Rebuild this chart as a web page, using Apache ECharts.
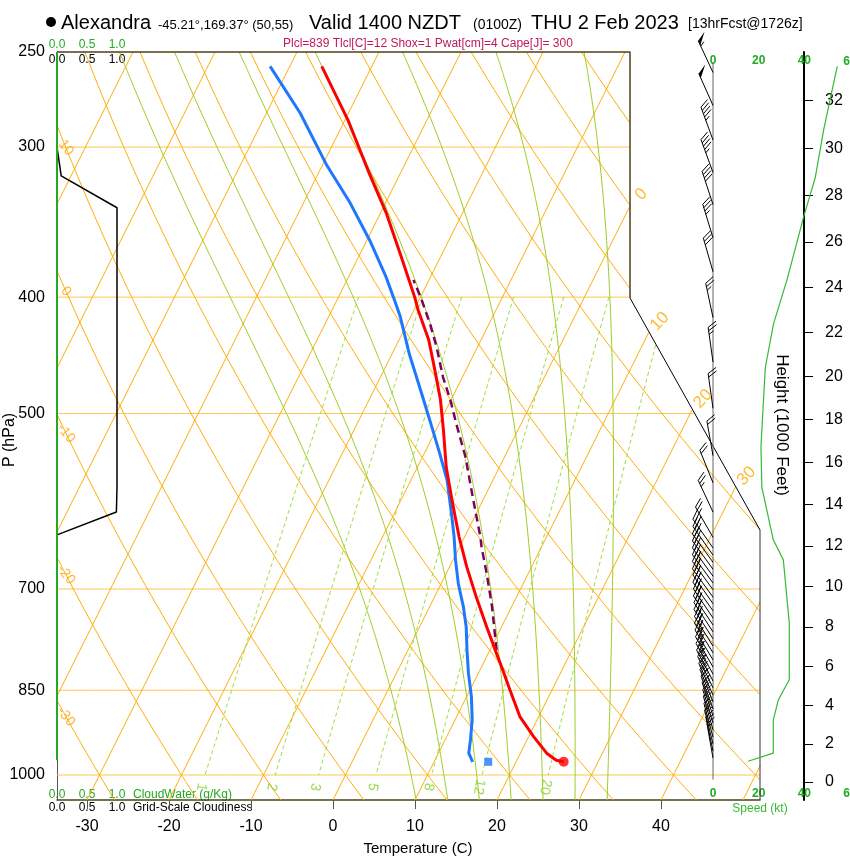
<!DOCTYPE html>
<html><head><meta charset="utf-8">
<script src="https://cdn.jsdelivr.net/npm/echarts@6/dist/echarts.min.js"></script>
<style>html,body{margin:0;padding:0;background:#fff}#c{width:850px;height:860px}</style>
</head><body><div id="c"></div>
<script>
// ---------------- data ----------------
const tempP = [975, 972, 959, 929, 894, 850, 818, 792, 753, 711, 671, 633, 590, 554, 516, 487, 460, 434, 410, 400, 373, 341, 316, 285, 257];
const tempT = [25.8, 24.8, 23.2, 20.6, 17.7, 14.9, 12.8, 11.0, 8.2, 5.1, 2.1, -0.7, -3.8, -6.5, -9.1, -11.3, -13.8, -16.4, -19.5, -20.7, -24.4, -29.2, -33.7, -39.6, -46.1];
const dewP = [975, 959, 935, 900, 861, 823, 787, 753, 724, 693, 662, 633, 606, 568, 540, 513, 481, 446, 415, 400, 385, 359, 334, 310, 281, 257];
const dewT = [14.7, 13.7, 13.1, 12.1, 10.6, 8.8, 7.2, 5.7, 4.1, 2.1, 0.3, -1.3, -3.0, -5.6, -8.1, -10.7, -14.0, -17.9, -21.3, -23.3, -25.4, -29.6, -34.3, -39.6, -45.9, -52.4];
const parcelP = [787, 724, 679, 646, 633, 590, 543, 510, 487, 466, 440, 421, 402, 387];
const parcelT = [10.8, 7.6, 4.9, 2.7, 1.9, -1.2, -4.8, -7.9, -10.1, -12.4, -15.0, -17.2, -19.7, -21.9];
const surfaceP = [975];
const surfaceT = [25.8];
const surfaceTd = [16.6];
const cloudP = [300, 317, 337, 576, 604, 631];
const cloudFrac = [0, 0.07, 1.0, 1.0, 0.99, 0];
const cloudWaterP = [250, 972];
const cloudWater = [0, 0];
const speedP = [974, 959, 900, 866, 833, 747, 662, 637, 576, 533, 458, 421, 387, 343, 318, 290, 257];
const speedKt = [15.4, 26.4, 26.4, 28.6, 33.4, 33.4, 30.8, 26.4, 21.4, 21.0, 22.9, 26.5, 32.4, 39.7, 44.8, 48.5, 54.4];
const windP = [260, 277, 296, 315, 335, 357, 381, 416, 453, 495, 542, 571, 604, 634,
  647, 656, 665, 674, 683, 692, 701, 711, 720, 730, 740, 750, 760, 770, 781, 791, 802, 813, 824, 835, 846, 858, 869, 881, 893, 905, 917, 930, 942, 955, 968];
const windDir = [335, 336, 340, 340, 342, 343, 344, 348, 352, 352, 350, 338, 335, 330,
  325, 325, 324, 324, 324, 324, 324, 324, 325, 325, 326, 326, 327, 327, 328, 328, 329, 330, 331, 332, 334, 336, 338, 340, 342, 343, 344, 345, 346, 348, 350];
const windKt = [55, 50, 45, 45, 40, 35, 30, 25, 25, 20, 20, 20, 25, 25,
  30, 30, 30, 30, 35, 35, 35, 35, 35, 35, 35, 35, 35, 35, 35, 35, 35, 35, 35, 35, 30, 30, 30, 30, 25, 25, 25, 25, 25, 25, 15];
const pressureTicks = [250, 300, 400, 500, 700, 850, 1000];
const guideIsobars = [300, 400, 500, 700, 850, 1000];
const tempTicks = [-30, -20, -10, 0, 10, 20, 30, 40];
const heightTicksKft = [0, 2, 4, 6, 8, 10, 12, 14, 16, 18, 20, 22, 24, 26, 28, 30, 32];
const speedTicks = [0, 20, 40];
const speedEdgeTick = '60';
const isotherms = [-100, -90, -80, -70, -60, -50, -40, -30, -20, -10, 0, 10, 20, 30, 40, 50];
const isothermLabels = [0, 10, 20, 30];
const dryAdiabats = [-40, -30, -20, -10, 0, 10, 20, 30, 40, 50, 60, 70, 80, 90, 100, 110, 120, 130];
const dryAdiabatLabels = [10, 0, -10, -20, -30];
const moistAdiabats = [8, 12, 16, 20, 24, 28, 32];
const mixingRatios = [1, 2, 3, 5, 8, 12, 20];

// ---------------- geometry of the skew-T ----------------
const FONT = '"Liberation Sans", Arial, Helvetica, sans-serif';
const GL = 57, GT = 52, GW = 703, GH = 748;
const PXPERC = 8.2;
const X_MIN = -30 - 30 / PXPERC, X_MAX = X_MIN + GW / PXPERC;
const P_TOP = 250, P_BOT = 1049.1;
const LNR = Math.log(P_BOT / P_TOP);
const SK = 0.5 * GH / (PXPERC * LNR);
const skewX = (T, p) => T + SK * Math.log(P_BOT / p);
const toPx = (X, p) => [GL + (X - X_MIN) * PXPERC, GT + GH * Math.log(p / P_TOP) / LNR];
const fromPx = (x, y) => [X_MIN + (x - GL) / PXPERC, P_TOP * Math.exp((y - GT) / GH * LNR)];
const C1 = [630, 298], C2 = [760, 530];
function boundX(y) { return y <= C1[1] ? C1[0] : (y <= C2[1] ? C1[0] + (y - C1[1]) * (C2[0] - C1[0]) / (C2[1] - C1[1]) : C2[0]); }
function inside(X, p) {
  const [x, y] = toPx(X, p);
  if (x < GL - 0.5 || y < GT - 0.5 || y > GT + GH + 0.5) return false;
  return x <= boundX(y) + 0.5;
}
function logP(n, a, b) { const r = []; for (let i = 0; i <= n; i++) r.push(a * Math.exp(i / n * Math.log(b / a))); return r; }
const PS = logP(600, P_TOP, P_BOT);
function family(lines) {
  const out = [];
  lines.forEach(pts => {
    let open = false;
    pts.forEach(pt => {
      if (inside(pt[0], pt[1])) { out.push(pt); open = true; }
      else if (open) { out.push([NaN, NaN]); open = false; }
    });
    if (open) out.push([NaN, NaN]);
  });
  return out;
}
function esat(Tc) { return 6.112 * Math.exp(17.67 * Tc / (Tc + 243.5)); }
function gammaS(p, T) {
  const es = esat(T - 273.15), rs = 0.622 * es / (p - es);
  return (287.04 * T + 2.501e6 * rs) / (p * (1005.7 + 2.501e6 * 2.501e6 * rs * 0.622 / (287.04 * T * T)));
}
function moistLine(thw) {
  const up = [], dn = [];
  let T = thw + 273.15, p = 1000;
  const rk = (p, T, h) => { const k1 = gammaS(p, T), k2 = gammaS(p + h / 2, T + h * k1 / 2), k3 = gammaS(p + h / 2, T + h * k2 / 2), k4 = gammaS(p + h, T + h * k3); return T + h * (k1 + 2 * k2 + 2 * k3 + k4) / 6; };
  up.push([p, T]);
  while (p > P_TOP) { const h = Math.max(-1, P_TOP - p); T = rk(p, T, h); p += h; up.push([p, T]); }
  T = thw + 273.15; p = 1000;
  while (p < P_BOT) { const h = Math.min(1, P_BOT - p); T = rk(p, T, h); p += h; dn.push([p, T]); }
  return dn.reverse().concat(up).map(([pp, TT]) => [skewX(TT - 273.15, pp), pp]);
}
function tdFromR(r, p) { const e = p * r / (622 + r); const a = Math.log(e / 6.112); return 243.5 * a / (17.67 - a); }
const dryT = (th, p) => (th + 273.15) * Math.pow(p / 1000, 0.2857) - 273.15;
const stdP = kft => 1013.25 * Math.pow(1 - 6.8756e-6 * kft * 1000, 5.2559);

const isoData = family(isotherms.map(T => PS.map(p => [skewX(T, p), p])));
const dryData = family(dryAdiabats.map(th => PS.map(p => [skewX(dryT(th, p), p), p])));
const moistData = family(moistAdiabats.map(moistLine));
const mixData = family(mixingRatios.map(r => logP(200, 400, 1000).map(p => [skewX(tdFromR(r, p), p), p])));
const barData = family(guideIsobars.map(p => { const a = []; for (let i = 0; i <= 500; i++) a.push([X_MIN + (X_MAX - X_MIN) * i / 500, p]); return a; }));

const labelItems = [];
dryAdiabatLabels.forEach(th => {
  const target = fromPx(GL + 9, 0)[0];
  let lo = P_TOP, hi = P_BOT;
  for (let k = 0; k < 60; k++) { const m = Math.sqrt(lo * hi); if (skewX(dryT(th, m), m) < target) lo = m; else hi = m; }
  labelItems.push({ value: [target, lo], label: { formatter: String(th), rotate: -52, color: '#ffa500', fontSize: 14 } });
});
isothermLabels.forEach(T => {
  let last = null;
  for (let i = PS.length - 1; i >= 0; i--) { const p = PS[i]; if (inside(skewX(T, p), p)) last = p; else break; }
  const [x, y] = toPx(skewX(T, last), last);
  const q = fromPx(x + 11, y - 11);
  labelItems.push({ value: q, label: { formatter: String(T), rotate: 47, color: '#ffaa00', fontSize: 17 } });
});
mixingRatios.forEach(r => {
  const p = fromPx(0, 787)[1];
  labelItems.push({ value: [skewX(tdFromR(r, p), p), p], label: { formatter: String(r), rotate: -100, color: '#88cc22', fontSize: 14 } });
});

function lineS(data, color, width, opts) {
  return Object.assign({ type: 'line', data, symbol: 'none', showSymbol: false, silent: true, animation: false,
    connectNulls: false, xAxisIndex: 0, yAxisIndex: 0, lineStyle: { color, width } }, opts || {});
}
const zip = (a, b) => a.map((v, i) => [v, b[i]]);

const c1 = fromPx(C1[0], C1[1]), c2 = fromPx(C2[0], C2[1]);
const heightPs = heightTicksKft.map(stdP);

function barbRender(params, api) {
  const base = api.coord([0, api.value(1)]);
  const d = api.value(2) * Math.PI / 180, spd = api.value(3);
  const L = 35, ux = Math.sin(d), uy = -Math.cos(d);
  const tip = [base[0] + ux * L, base[1] + uy * L];
  const a = 60 * Math.PI / 180;
  const fx = ux * Math.cos(a) - uy * Math.sin(a), fy = ux * Math.sin(a) + uy * Math.cos(a);
  const ch = [{ type: 'line', shape: { x1: base[0], y1: base[1], x2: tip[0], y2: tip[1] }, style: { stroke: '#000', lineWidth: 1 } }];
  let s = Math.round(spd / 5) * 5, pos = 0;
  const at = t => [tip[0] - ux * t, tip[1] - uy * t];
  while (s >= 50) {
    const p1 = at(pos), p2 = at(pos + 5);
    ch.push({ type: 'polygon', shape: { points: [p1, [p1[0] + fx * 11, p1[1] + fy * 11], p2] }, style: { fill: '#000' } });
    pos += 6; s -= 50;
  }
  while (s >= 10) {
    const p1 = at(pos);
    ch.push({ type: 'line', shape: { x1: p1[0], y1: p1[1], x2: p1[0] + fx * 10, y2: p1[1] + fy * 10 }, style: { stroke: '#000', lineWidth: 1 } });
    pos += 3.5; s -= 10;
  }
  if (s >= 5) {
    if (pos === 0) pos = 3.5;
    const p1 = at(pos);
    ch.push({ type: 'line', shape: { x1: p1[0], y1: p1[1], x2: p1[0] + fx * 5.5, y2: p1[1] + fy * 5.5 }, style: { stroke: '#000', lineWidth: 1 } });
  }
  return { type: 'group', children: ch };
}

function txt(x, y, text, size, fill, extra) {
  return Object.assign({ type: 'text', x, y, silent: true, style: { text, fill: fill || '#000', font: size + 'px ' + FONT, align: 'left', verticalAlign: 'middle' } }, extra || {});
}
function ctxt(x, y, text, size, fill, rot, weight) {
  return { type: 'text', x, y, rotation: rot || 0, silent: true, style: { text, fill: fill || '#000', font: (weight ? weight + ' ' : '') + size + 'px ' + FONT, align: 'center', verticalAlign: 'middle' } };
}
const GREEN = '#22aa22';
const noZero = { onZero: false };
const speedLabel = (pos, margin) => ({ type: 'value', gridIndex: 1, min: 0, max: 60, position: pos,
  axisLine: { show: false, onZero: false }, axisTick: { show: false }, splitLine: { show: false },
  axisLabel: { inside: true, margin, customValues: speedTicks, color: GREEN, fontSize: 12, fontWeight: 'bold', fontFamily: FONT } });

const option = {
  animation: false,
  backgroundColor: '#fff',
  textStyle: { fontFamily: FONT },
  grid: [
    { left: GL, top: GT, width: GW, height: GH },
    { left: 713, width: 137, top: GT, height: GH },
    { left: 804, width: 30, top: GT, height: GH }
  ],
  xAxis: [
    { type: 'value', gridIndex: 0, min: X_MIN, max: X_MAX, position: 'bottom',
      axisLine: { show: true, onZero: false, lineStyle: { color: '#4d4018', width: 1.5 } },
      axisTick: { show: true, customValues: tempTicks, length: 9, lineStyle: { color: '#555' } },
      axisLabel: { customValues: tempTicks, fontSize: 16, color: '#000', margin: 19, fontFamily: FONT },
      splitLine: { show: false } },
    { type: 'value', gridIndex: 0, min: 0, max: GW / 60, show: false, axisLine: noZero },
    speedLabel('top', 3),
    speedLabel('bottom', 0),
    { type: 'value', gridIndex: 2, min: 0, max: 1, show: false, axisLine: noZero }
  ],
  yAxis: [
    { type: 'log', gridIndex: 0, min: P_TOP, max: P_BOT, inverse: true, position: 'left',
      axisLine: { show: true, onZero: false, lineStyle: { color: '#555', width: 1 } }, axisTick: { show: false },
      axisLabel: { customValues: pressureTicks, fontSize: 16, color: '#000', margin: 12, fontFamily: FONT, formatter: v => String(Math.round(v)) },
      splitLine: { show: false }, minorTick: { show: false } },
    { type: 'log', gridIndex: 1, min: P_TOP, max: P_BOT, inverse: true, show: false, axisLine: noZero },
    { type: 'log', gridIndex: 2, min: P_TOP, max: P_BOT, inverse: true, position: 'left',
      axisLine: { show: true, onZero: false, lineStyle: { color: '#000', width: 2 } },
      axisTick: { show: true, inside: true, customValues: heightPs, length: 9, lineStyle: { color: '#000', width: 1 } },
      axisLabel: { inside: true, customValues: heightPs, fontSize: 16, color: '#000', margin: 21, fontFamily: FONT,
        formatter: v => { let bi = 0, bd = 1e9; heightPs.forEach((q, i) => { const dd = Math.abs(q - v); if (dd < bd) { bd = dd; bi = i; } }); return String(heightTicksKft[bi]); } },
      splitLine: { show: false } }
  ],
  graphic: [
    { type: 'circle', shape: { cx: 51, cy: 22, r: 5 }, style: { fill: '#000' }, silent: true },
    txt(61, 23, 'Alexandra', 20),
    txt(158, 25, '-45.21°,169.37° (50,55)', 13),
    txt(309, 23, 'Valid 1400 NZDT', 20),
    txt(473, 25, '(0100Z)', 14),
    txt(531, 23, 'THU 2 Feb 2023', 20),
    txt(688, 24, '[13hrFcst@1726z]', 14),
    txt(283, 44, 'Plcl=839 Tlcl[C]=12 Shox=1 Pwat[cm]=4 Cape[J]= 300', 12, '#c0185a'),
    ctxt(57, 45, '0.0', 12, GREEN), ctxt(87, 45, '0.5', 12, GREEN), ctxt(117, 45, '1.0', 12, GREEN),
    ctxt(57, 60, '0.0', 12), ctxt(87, 60, '0.5', 12), ctxt(117, 60, '1.0', 12),
    ctxt(57, 795, '0.0', 12, GREEN), ctxt(87, 795, '0.5', 12, GREEN), ctxt(117, 795, '1.0', 12, GREEN),
    txt(133, 795, 'CloudWater (g/Kg)', 12, GREEN),
    ctxt(57, 808, '0.0', 12), ctxt(87, 808, '0.5', 12), ctxt(117, 808, '1.0', 12),
    txt(133, 808, 'Grid-Scale Cloudiness', 12),
    ctxt(10, 440, 'P (hPa)', 16, '#000', Math.PI / 2),
    ctxt(418, 849, 'Temperature (C)', 15),
    ctxt(782, 425, 'Height (1000 Feet)', 17, '#000', -Math.PI / 2),
    ctxt(760, 809, 'Speed (kt)', 12, '#33bb33'),
    ctxt(850, 62, speedEdgeTick, 12, GREEN, 0, 'bold'),
    ctxt(850, 794, speedEdgeTick, 12, GREEN, 0, 'bold')
  ],
  series: [
    lineS(barData, '#ffc44d', 1, { z: 1 }),
    lineS(isoData, '#ffaa00', 1, { z: 2 }),
    lineS(dryData, '#ffaa00', 1, { z: 2 }),
    lineS(moistData, '#99cc22', 1, { z: 3 }),
    lineS(mixData, '#99dd33', 1, { z: 3, lineStyle: { color: '#99dd33', width: 1, type: [4, 3] } }),
    lineS([[X_MIN, P_TOP], [c1[0], P_TOP], c1], '#4d4018', 1.5, { clip: false, z: 4 }),
    lineS([c1, c2], '#000', 1, { clip: false, z: 4 }),
    lineS([c2, [c2[0], P_BOT]], '#333', 1, { clip: false, z: 4 }),
    lineS(zip(cloudFrac, cloudP), '#000', 1.5, { xAxisIndex: 1, z: 5 }),
    lineS(zip(cloudWater, cloudWaterP), GREEN, 2, { xAxisIndex: 1, z: 6, clip: false }),
    lineS(parcelP.map((p, i) => [skewX(parcelT[i], p), p]), '#800060', 2.5, { z: 7, lineStyle: { color: '#800060', width: 2.5, type: [8, 5] } }),
    lineS(dewP.map((p, i) => [skewX(dewT[i], p), p]), '#1e78ff', 3, { z: 8 }),
    lineS(tempP.map((p, i) => [skewX(tempT[i], p), p]), '#ff0000', 3, { z: 9 }),
    { type: 'scatter', xAxisIndex: 0, yAxisIndex: 0, symbol: 'circle', symbolSize: 10, silent: true, z: 10,
      itemStyle: { color: '#ff0000' }, data: surfaceP.map((p, i) => [skewX(surfaceT[i], p), p]) },
    { type: 'scatter', xAxisIndex: 0, yAxisIndex: 0, symbol: 'rect', symbolSize: 8, silent: true, z: 10,
      itemStyle: { color: '#1e78ff' }, data: surfaceP.map((p, i) => [skewX(surfaceTd[i], p), p]) },
    { type: 'scatter', xAxisIndex: 0, yAxisIndex: 0, symbol: 'circle', symbolSize: 1, silent: true, clip: false, z: 11,
      itemStyle: { color: 'rgba(0,0,0,0)' },
      label: { show: true, position: 'inside', fontFamily: FONT }, data: labelItems },
    lineS([[0, 255], [0, 1009]], '#666', 1, { xAxisIndex: 2, yAxisIndex: 1, clip: false, z: 4 }),
    lineS(zip(speedKt, speedP), '#33bb33', 1.2, { xAxisIndex: 2, yAxisIndex: 1, clip: false, z: 5 }),
    { type: 'custom', xAxisIndex: 2, yAxisIndex: 1, silent: true, z: 6, clip: false,
      renderItem: barbRender, encode: { x: 0, y: 1 },
      data: windP.map((p, i) => [0, p, windDir[i], windKt[i]]) }
  ]
};
const chart = echarts.init(document.getElementById('c'));
chart.setOption(option);
</script>
</body></html>
